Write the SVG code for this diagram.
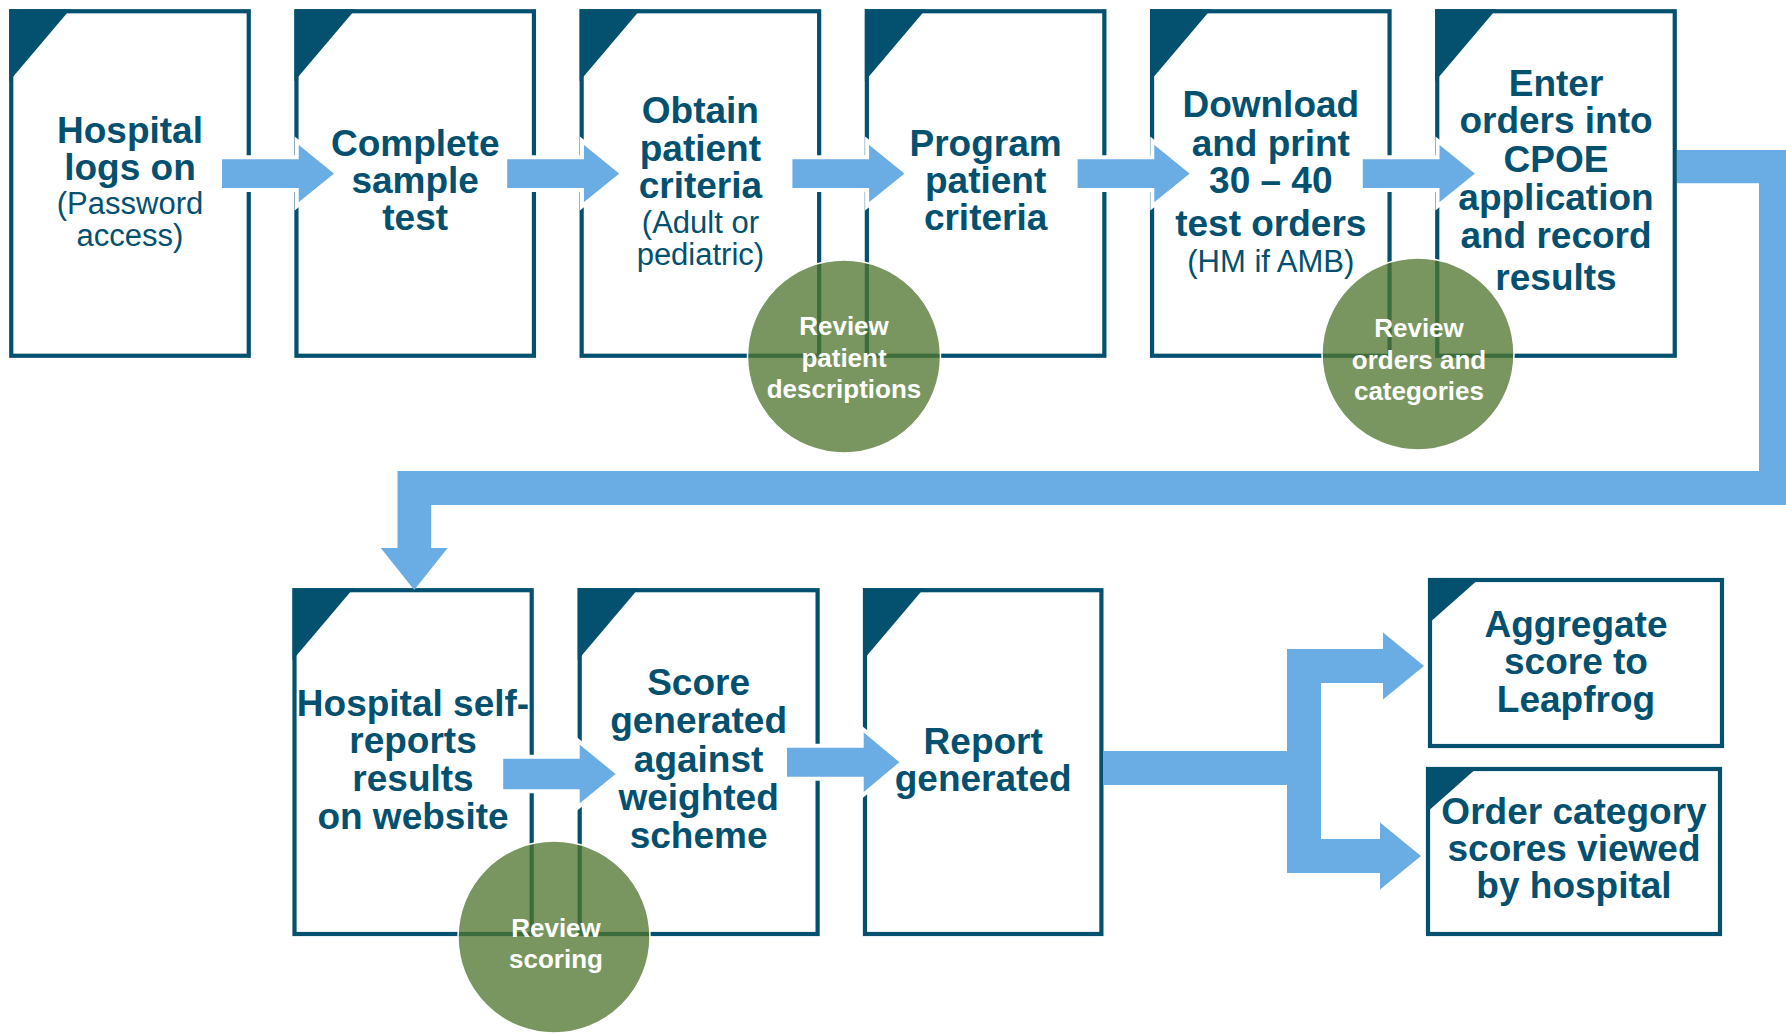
<svg xmlns="http://www.w3.org/2000/svg" width="1786" height="1034" viewBox="0 0 1786 1034">
<style>
.bg{fill:#ffffff}
.box{fill:#ffffff;stroke:#03506F;stroke-width:4.2}
.tri{fill:#03506F}
.t{font-family:'Liberation Sans',Arial,sans-serif;font-weight:bold;font-size:37px;fill:#03506F;text-anchor:middle}
.r{font-weight:normal;font-size:31px}
.arrow{fill:#6AADE4;stroke:#ffffff;stroke-width:4;stroke-linejoin:miter}
.bar{fill:#6AADE4}
.circ{fill:#50752E;fill-opacity:0.76;stroke:#ffffff;stroke-width:1.5}
.ct{font-family:'Liberation Sans',Arial,sans-serif;font-weight:bold;font-size:26px;fill:#ffffff;text-anchor:middle}
</style>
<rect class="bg" x="0" y="0" width="1786" height="1034"/>

<g id="node-hospital-logs-on">
<rect class="box" x="11.25" y="11.25" width="237.5" height="344.5"/>
<polygon class="tri" points="9.25,9.25 70.25,9.25 9.25,81.25"/>
<text class="t" x="130" y="143">Hospital</text>
<text class="t" x="130" y="180">logs on</text>
<text class="t r" x="130" y="214">(Password</text>
<text class="t r" x="130" y="246">access)</text>
</g>

<g id="node-complete-sample-test">
<rect class="box" x="296.45" y="11.25" width="237.5" height="344.5"/>
<polygon class="tri" points="294.45,9.25 355.45,9.25 294.45,81.25"/>
<text class="t" x="415.2" y="155.5">Complete</text>
<text class="t" x="415.2" y="193">sample</text>
<text class="t" x="415.2" y="230">test</text>
</g>

<g id="node-obtain-patient-criteria">
<rect class="box" x="581.65" y="11.25" width="237.5" height="344.5"/>
<polygon class="tri" points="579.65,9.25 640.65,9.25 579.65,81.25"/>
<text class="t" x="700.4" y="123.3">Obtain</text>
<text class="t" x="700.4" y="160.5">patient</text>
<text class="t" x="700.4" y="198">criteria</text>
<text class="t r" x="700.4" y="233">(Adult or</text>
<text class="t r" x="700.4" y="265">pediatric)</text>
</g>

<g id="node-program-patient-criteria">
<rect class="box" x="866.85" y="11.25" width="237.5" height="344.5"/>
<polygon class="tri" points="864.85,9.25 925.85,9.25 864.85,81.25"/>
<text class="t" x="985.6" y="155.5">Program</text>
<text class="t" x="985.6" y="193">patient</text>
<text class="t" x="985.6" y="230">criteria</text>
</g>

<g id="node-download-print">
<rect class="box" x="1152.05" y="11.25" width="237.5" height="344.5"/>
<polygon class="tri" points="1150.05,9.25 1211.05,9.25 1150.05,81.25"/>
<text class="t" x="1270.8" y="117.3">Download</text>
<text class="t" x="1270.8" y="156">and print</text>
<text class="t" x="1270.8" y="193.3">30 – 40</text>
<text class="t" x="1270.8" y="236">test orders</text>
<text class="t r" x="1270.8" y="271.7">(HM if AMB)</text>
</g>

<g id="node-enter-orders">
<rect class="box" x="1437.25" y="11.25" width="237.5" height="344.5"/>
<polygon class="tri" points="1435.25,9.25 1496.25,9.25 1435.25,81.25"/>
<text class="t" x="1556" y="96">Enter</text>
<text class="t" x="1556" y="133.3">orders into</text>
<text class="t" x="1556" y="171.7">CPOE</text>
<text class="t" x="1556" y="210">application</text>
<text class="t" x="1556" y="248.3">and record</text>
<text class="t" x="1556" y="290">results</text>
</g>

<g id="node-self-reports">
<rect class="box" x="294.5" y="590.2" width="237.2" height="343.8"/>
<polygon class="tri" points="292.5,588.2 353.5,588.2 292.5,660.2"/>
<text class="t" x="413" y="715.5">Hospital self-</text>
<text class="t" x="413" y="752.5">reports</text>
<text class="t" x="413" y="790.5">results</text>
<text class="t" x="413" y="828.5">on website</text>
</g>

<g id="node-score-generated">
<rect class="box" x="579.7" y="590.2" width="237.9" height="343.8"/>
<polygon class="tri" points="577.7,588.2 638.7,588.2 577.7,660.2"/>
<text class="t" x="698.6" y="695">Score</text>
<text class="t" x="698.6" y="733.3">generated</text>
<text class="t" x="698.6" y="771.6">against</text>
<text class="t" x="698.6" y="809.9">weighted</text>
<text class="t" x="698.6" y="848.2">scheme</text>
</g>

<g id="node-report-generated">
<rect class="box" x="865" y="590.2" width="236.4" height="343.8"/>
<polygon class="tri" points="863,588.2 924,588.2 863,660.2"/>
<text class="t" x="983.2" y="753.5">Report</text>
<text class="t" x="983.2" y="791">generated</text>
</g>

<g id="node-aggregate-score">
<rect class="box" x="1430" y="580" width="292" height="166"/>
<polygon class="tri" points="1428,578 1480,578 1428,624"/>
<text class="t" x="1576" y="636.5">Aggregate</text>
<text class="t" x="1576" y="673.5">score to</text>
<text class="t" x="1576" y="711.5">Leapfrog</text>
</g>

<g id="node-order-category-scores">
<rect class="box" x="1428" y="769" width="292" height="165"/>
<polygon class="tri" points="1426,767 1478,767 1426,813"/>
<text class="t" x="1574" y="824">Order category</text>
<text class="t" x="1574" y="861">scores viewed</text>
<text class="t" x="1574" y="898">by hospital</text>
</g>

<g id="connectors">
<polygon class="arrow" points="220,157.2 296.7,157.2 296.7,140.8 337.3,173.6 296.7,206.4 296.7,190 220,190"/>
<polygon class="arrow" points="505.2,157.2 581.9,157.2 581.9,140.8 622.5,173.6 581.9,206.4 581.9,190 505.2,190"/>
<polygon class="arrow" points="790.4,157.2 867.1,157.2 867.1,140.8 907.7,173.6 867.1,206.4 867.1,190 790.4,190"/>
<polygon class="arrow" points="1075.6,157.2 1152.3,157.2 1152.3,140.8 1192.9,173.6 1152.3,206.4 1152.3,190 1075.6,190"/>
<polygon class="arrow" points="1360.8,157.2 1437.5,157.2 1437.5,140.8 1478.1,173.6 1437.5,206.4 1437.5,190 1360.8,190"/>
<polygon class="bar" points="1677,150 1790,150 1790,505 431.2,505 431.2,548 447.6,548 414.2,590 380.8,548 397.5,548 397.5,471 1759,471 1759,183.3 1677,183.3"/>
<polygon class="arrow" points="501.2,756.8 577.7,756.8 577.7,740.5 618.7,774 577.7,807.5 577.7,791.2 501.2,791.2"/>
<polygon class="arrow" points="785,745.7 861.7,745.7 861.7,728.2 902.5,762.2 861.7,796.2 861.7,778.7 785,778.7"/>
<polygon class="bar" points="1103.4,751 1287,751 1287,649 1383,649 1383,632.5 1424,666 1383,699.5 1383,683 1321,683 1321,839 1380,839 1380,822.5 1421,856 1380,889.5 1380,873 1287,873 1287,785 1103.4,785"/>
</g>

<g id="node-review-patient-descriptions">
<circle class="circ" cx="844" cy="356.5" r="96.5"/>
<text class="ct" x="844" y="335">Review</text>
<text class="ct" x="844" y="366.5">patient</text>
<text class="ct" x="844" y="398">descriptions</text>
</g>

<g id="node-review-orders-categories">
<circle class="circ" cx="1418" cy="354" r="96"/>
<text class="ct" x="1419" y="337">Review</text>
<text class="ct" x="1419" y="368.5">orders and</text>
<text class="ct" x="1419" y="400">categories</text>
</g>

<g id="node-review-scoring">
<circle class="circ" cx="554" cy="937" r="96"/>
<text class="ct" x="556" y="936.5">Review</text>
<text class="ct" x="556" y="968">scoring</text>
</g>
</svg>
